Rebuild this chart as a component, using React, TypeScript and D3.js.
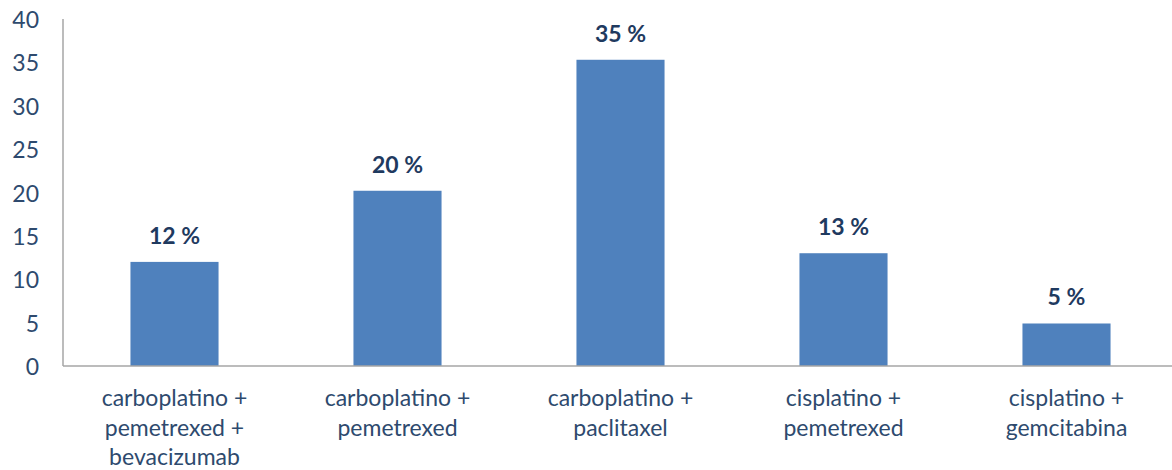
import React from "react";
import * as d3 from "d3";

const categories: string[][] = [
  ["carboplatino +", "pemetrexed +", "bevacizumab"],
  ["carboplatino +", "pemetrexed"],
  ["carboplatino +", "paclitaxel"],
  ["cisplatino +", "pemetrexed"],
  ["cisplatino +", "gemcitabina"],
];
const values: number[] = [12, 20.2, 35.3, 13, 4.9];
const labels: string[] = ["12 %", "20 %", "35 %", "13 %", "5 %"];
const yTicks: number[] = [0, 5, 10, 15, 20, 25, 30, 35, 40];

const W = 1172;
const H = 470;
const left = 63;
const right = 1178;
const top = 19;
const bottom = 366;
const FONT = "Lato, 'Open Sans', sans-serif";

export default function App() {
  const x = d3
    .scaleBand<number>()
    .domain(values.map((_, i) => i))
    .range([left, right]);
  const y = d3.scaleLinear().domain([0, 40]).range([bottom, top]);
  const bw = x.bandwidth() * 0.395;

  return (
    <svg
      width={W}
      height={H}
      style={{ position: "absolute", left: 0, top: 0, display: "block" }}
      fontFamily={FONT}
    >
      {yTicks.map((t) => (
        <text
          key={t}
          x={39}
          y={y(t)}
          textAnchor="end"
          dominantBaseline="central"
          fontSize={23}
          fill="#2E4A6E"
        >
          {t}
        </text>
      ))}
      {values.map((v, i) => {
        const cx = (x(i) as number) + x.bandwidth() / 2;
        return (
          <g key={i}>
            <rect
              x={cx - bw / 2}
              y={y(v)}
              width={bw}
              height={bottom - y(v)}
              fill="#4F81BD"
            />
            <text
              x={cx}
              y={y(v) - 27}
              textAnchor="middle"
              dominantBaseline="central"
              fontSize={23}
              fontWeight="bold"
              fill="#1F3A5F"
            >
              {labels[i]}
            </text>
            {categories[i].map((line, j) => (
              <text
                key={j}
                x={cx}
                y={397 + j * 29.6}
                textAnchor="middle"
                dominantBaseline="central"
                fontSize={23}
                fill="#2E4A6E"
              >
                {line}
              </text>
            ))}
          </g>
        );
      })}
      <line x1={left} x2={W} y1={bottom} y2={bottom} stroke="#A6A6A6" strokeWidth={1.5} />
      <line x1={left} x2={left} y1={top} y2={bottom} stroke="#A6A6A6" strokeWidth={1.5} />
    </svg>
  );
}
